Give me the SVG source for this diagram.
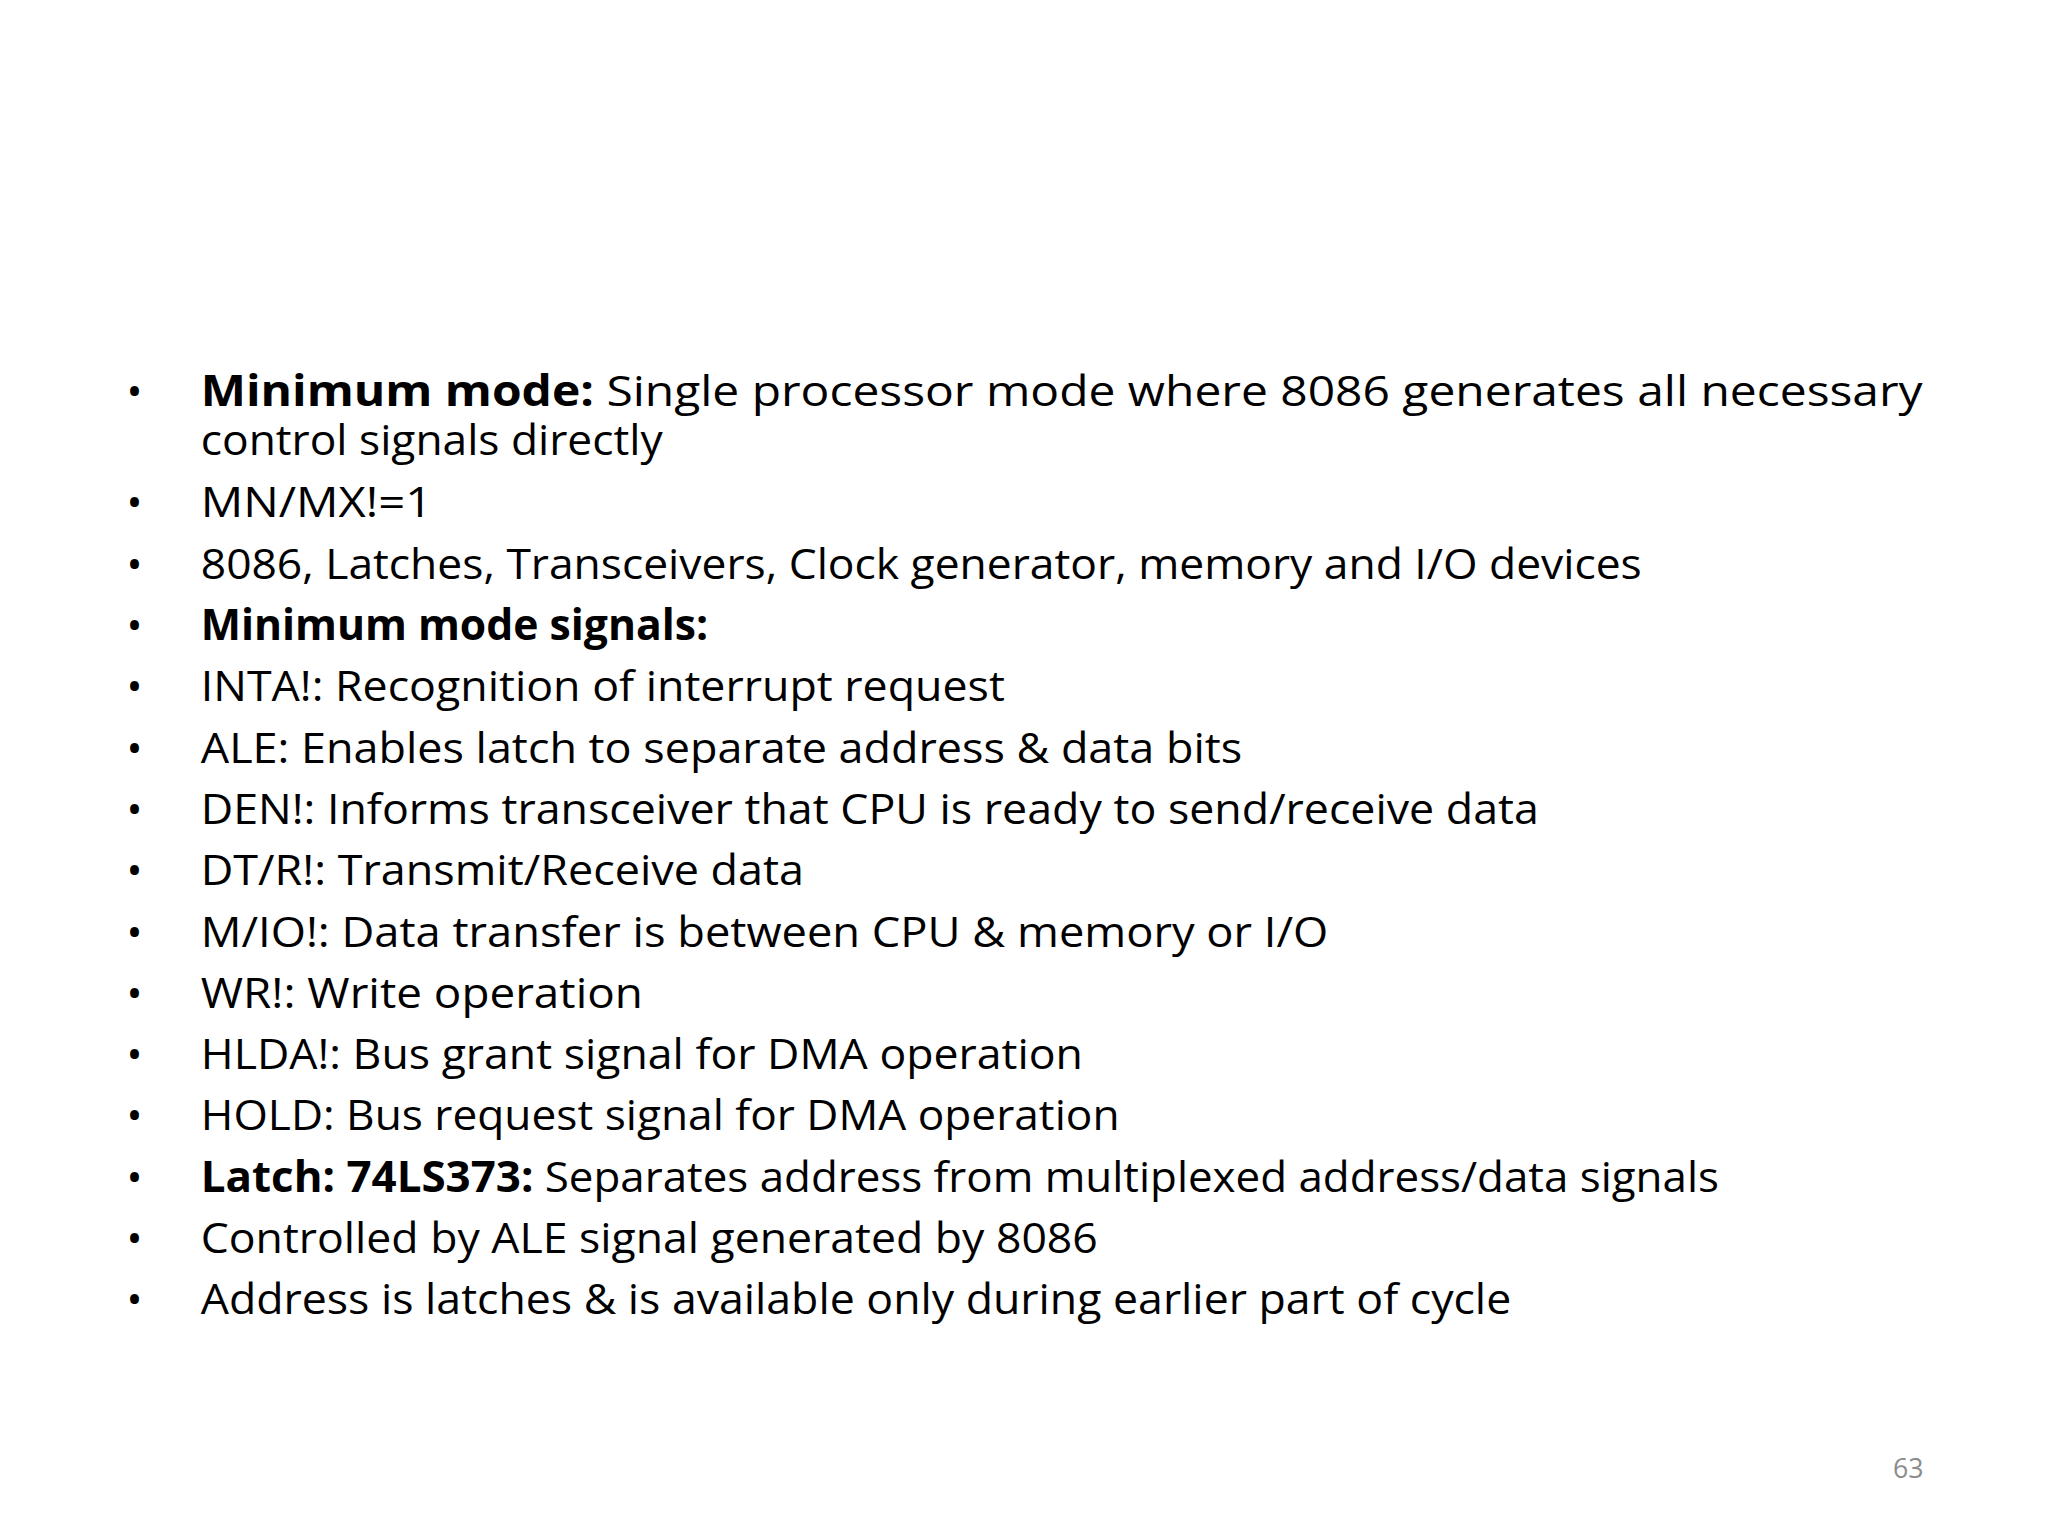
<svg xmlns="http://www.w3.org/2000/svg" width="2048" height="1536" viewBox="0 0 2048 1536">
<style>
text{font-family:"Open Sans","Liberation Sans",sans-serif;font-size:43px;fill:#000}
.b{font-weight:bold}
.n{font-size:27px;fill:#8c8c8c}
</style>
<rect width="2048" height="1536" fill="#fff"/>
<g transform="translate(0,4) scale(0.989)">
<g id="bullets">
<text x="128" y="406">•</text><text x="128" y="519">•</text><text x="128" y="581">•</text><text x="128" y="643">•</text><text x="128" y="705">•</text><text x="128" y="767">•</text><text x="128" y="829">•</text><text x="128" y="891">•</text><text x="128" y="953">•</text><text x="128" y="1015">•</text><text x="128" y="1077">•</text><text x="128" y="1139">•</text><text x="128" y="1201">•</text><text x="128" y="1263">•</text><text x="128" y="1325">•</text>
</g>
<g id="lines">
<text x="203" y="406" textLength="1741" lengthAdjust="spacingAndGlyphs"><tspan class="b">Minimum  mode:</tspan> Single  processor  mode  where  8086  generates  all  necessary</text>
<text x="203" y="456" textLength="467" lengthAdjust="spacingAndGlyphs">control signals directly</text>
<text x="203" y="519" textLength="234" lengthAdjust="spacingAndGlyphs">MN/MX!=1</text>
<text x="203" y="581" textLength="1457" lengthAdjust="spacingAndGlyphs">8086, Latches, Transceivers, Clock generator, memory and I/O devices</text>
<text x="203" y="643" textLength="513" lengthAdjust="spacingAndGlyphs" class="b">Minimum mode signals:</text>
<text x="203" y="705" textLength="813" lengthAdjust="spacingAndGlyphs">INTA!: Recognition of interrupt request</text>
<text x="203" y="767" textLength="1053" lengthAdjust="spacingAndGlyphs">ALE: Enables latch  to separate address &amp; data bits</text>
<text x="203" y="829" textLength="1353" lengthAdjust="spacingAndGlyphs">DEN!: Informs transceiver that CPU is ready to send/receive data</text>
<text x="203" y="891" textLength="610" lengthAdjust="spacingAndGlyphs">DT/R!: Transmit/Receive data</text>
<text x="203" y="953" textLength="1140" lengthAdjust="spacingAndGlyphs">M/IO!: Data transfer is between CPU &amp; memory or I/O</text>
<text x="203" y="1015" textLength="447" lengthAdjust="spacingAndGlyphs">WR!: Write operation</text>
<text x="203" y="1077" textLength="892" lengthAdjust="spacingAndGlyphs">HLDA!: Bus grant signal for DMA operation</text>
<text x="203" y="1139" textLength="929" lengthAdjust="spacingAndGlyphs">HOLD: Bus request signal for DMA operation</text>
<text x="203" y="1201" textLength="1535" lengthAdjust="spacingAndGlyphs"><tspan class="b">Latch: 74LS373:</tspan> Separates address from multiplexed address/data signals</text>
<text x="203" y="1263" textLength="907" lengthAdjust="spacingAndGlyphs">Controlled by ALE signal generated by 8086</text>
<text x="203" y="1325" textLength="1325" lengthAdjust="spacingAndGlyphs">Address is latches &amp; is available only during earlier part of cycle</text>
</g>
<text class="n" x="1945" y="1490" text-anchor="end">63</text>
</g>
</svg>
